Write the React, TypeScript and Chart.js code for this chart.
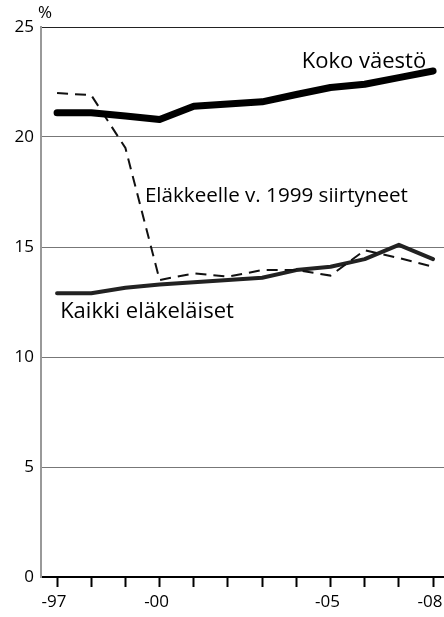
import React, { useEffect, useRef } from 'react';
import { Chart, registerables } from 'chart.js';

Chart.register(...registerables);

// ---- data ----
const years = [1997, 1998, 1999, 2000, 2001, 2002, 2003, 2004, 2005, 2006, 2007, 2008];
const kokoVaesto = [21.1, 21.1, 20.95, 20.8, 21.4, 21.5, 21.6, 21.93, 22.25, 22.4, 22.7, 23.0];
const siirtyneet1999 = [22.0, 21.9, 19.5, 13.5, 13.8, 13.65, 13.95, 13.95, 13.7, 14.85, 14.5, 14.1];
const kaikkiElakelaiset = [12.9, 12.9, 13.15, 13.3, 13.4, 13.5, 13.6, 13.95, 14.1, 14.45, 15.1, 14.45];
const xTickYears = [1997, 2000, 2005, 2008];
const xTickLabels = ['-97', '-00', '-05', '-08'];
const yTickValues = [0, 5, 10, 15, 20, 25];
const yUnit = '%';
const seriesNames = ['Koko väestö', 'Eläkkeelle v. 1999 siirtyneet', 'Kaikki eläkeläiset'];

const FONT = "'Open Sans', 'Noto Sans', sans-serif";

// label anchors in data coordinates (year, value) - left/baseline
const labelAnchors = [
  { name: seriesNames[0], x: 2004.16, y: 23.12, font: `22px ${FONT}` },
  { name: seriesNames[1], x: 1999.57, y: 17.06, font: `20.6px ${FONT}` },
  { name: seriesNames[2], x: 1997.09, y: 11.76, font: `22px ${FONT}` },
];

const labelPlugin = {
  id: 'seriesLabels',
  afterDraw(chart: any) {
    const { ctx, scales, chartArea } = chart;
    ctx.save();
    ctx.fillStyle = '#000';
    ctx.textAlign = 'left';
    ctx.textBaseline = 'alphabetic';
    for (const a of labelAnchors) {
      ctx.font = a.font;
      ctx.fillText(a.name, scales.x.getPixelForValue(a.x), scales.y.getPixelForValue(a.y));
    }
    ctx.font = `17px ${FONT}`;
    ctx.fillText(yUnit, chartArea.left - 3, chartArea.top - 9);
    ctx.restore();
  },
};

export default function App() {
  const ref = useRef<HTMLCanvasElement | null>(null);
  useEffect(() => {
    if (!ref.current) return;
    const toXY = (vals: number[]) => years.map((yr, i) => ({ x: yr, y: vals[i] }));
    const chart = new Chart(ref.current, {
      type: 'line',
      data: {
        datasets: [
          {
            label: seriesNames[0],
            data: toXY(kokoVaesto),
            borderColor: '#000',
            borderWidth: 7,
            borderCapStyle: 'round',
            borderJoinStyle: 'round',
            pointRadius: 0,
            tension: 0,
          },
          {
            label: seriesNames[1],
            data: toXY(siirtyneet1999),
            borderColor: '#111',
            borderWidth: 2,
            borderDash: [11, 7],
            pointRadius: 0,
            tension: 0,
          },
          {
            label: seriesNames[2],
            data: toXY(kaikkiElakelaiset),
            borderColor: '#222',
            borderWidth: 4,
            borderCapStyle: 'round',
            borderJoinStyle: 'round',
            pointRadius: 0,
            tension: 0,
          },
        ],
      },
      options: {
        animation: false,
        responsive: false,
        devicePixelRatio: 1,
        layout: { padding: { top: 27, left: 0, right: 0, bottom: 0 } },
        plugins: { legend: { display: false }, tooltip: { enabled: false } },
        scales: {
          x: {
            type: 'linear',
            min: 1996.53,
            max: 2008.32,
            afterFit: (s: any) => {
              s.height = 40;
              s.paddingLeft = 0;
              s.paddingRight = 0;
            },
            border: { display: true, color: '#000', width: 2 },
            grid: {
              drawOnChartArea: false,
              drawTicks: true,
              tickLength: 10,
              tickColor: '#000',
              tickWidth: 2,
            },
            ticks: {
              stepSize: 1,
              includeBounds: false,
              autoSkip: false,
              maxRotation: 0,
              labelOffset: -3,
              padding: 5,
              color: '#000',
              font: { family: FONT, size: 17 },
              callback: (v: any) => {
                const i = xTickYears.indexOf(Math.round(Number(v)));
                return i >= 0 ? xTickLabels[i] : '';
              },
            },
          },
          y: {
            min: yTickValues[0],
            max: yTickValues[yTickValues.length - 1],
            afterFit: (s: any) => {
              s.width = 41;
              s.paddingTop = 0;
              s.paddingBottom = 0;
            },
            border: { display: true, color: '#999', width: 2 },
            grid: {
              drawTicks: false,
              lineWidth: 1,
              color: (c: any) => (c.tick && c.tick.value === 25 ? '#222' : '#777'),
            },
            afterBuildTicks: (s: any) => {
              s.ticks = yTickValues.map((v) => ({ value: v }));
            },
            ticks: {
              padding: 7,
              color: '#000',
              font: { family: FONT, size: 17 },
            },
          },
        },
      },
      plugins: [labelPlugin],
    });
    return () => chart.destroy();
  }, []);
  return (
    <div style={{ position: 'fixed', left: 0, top: 0, width: 444, height: 617, background: '#fff' }}>
      <canvas ref={ref} width={444} height={617} style={{ display: 'block' }} />
    </div>
  );
}
